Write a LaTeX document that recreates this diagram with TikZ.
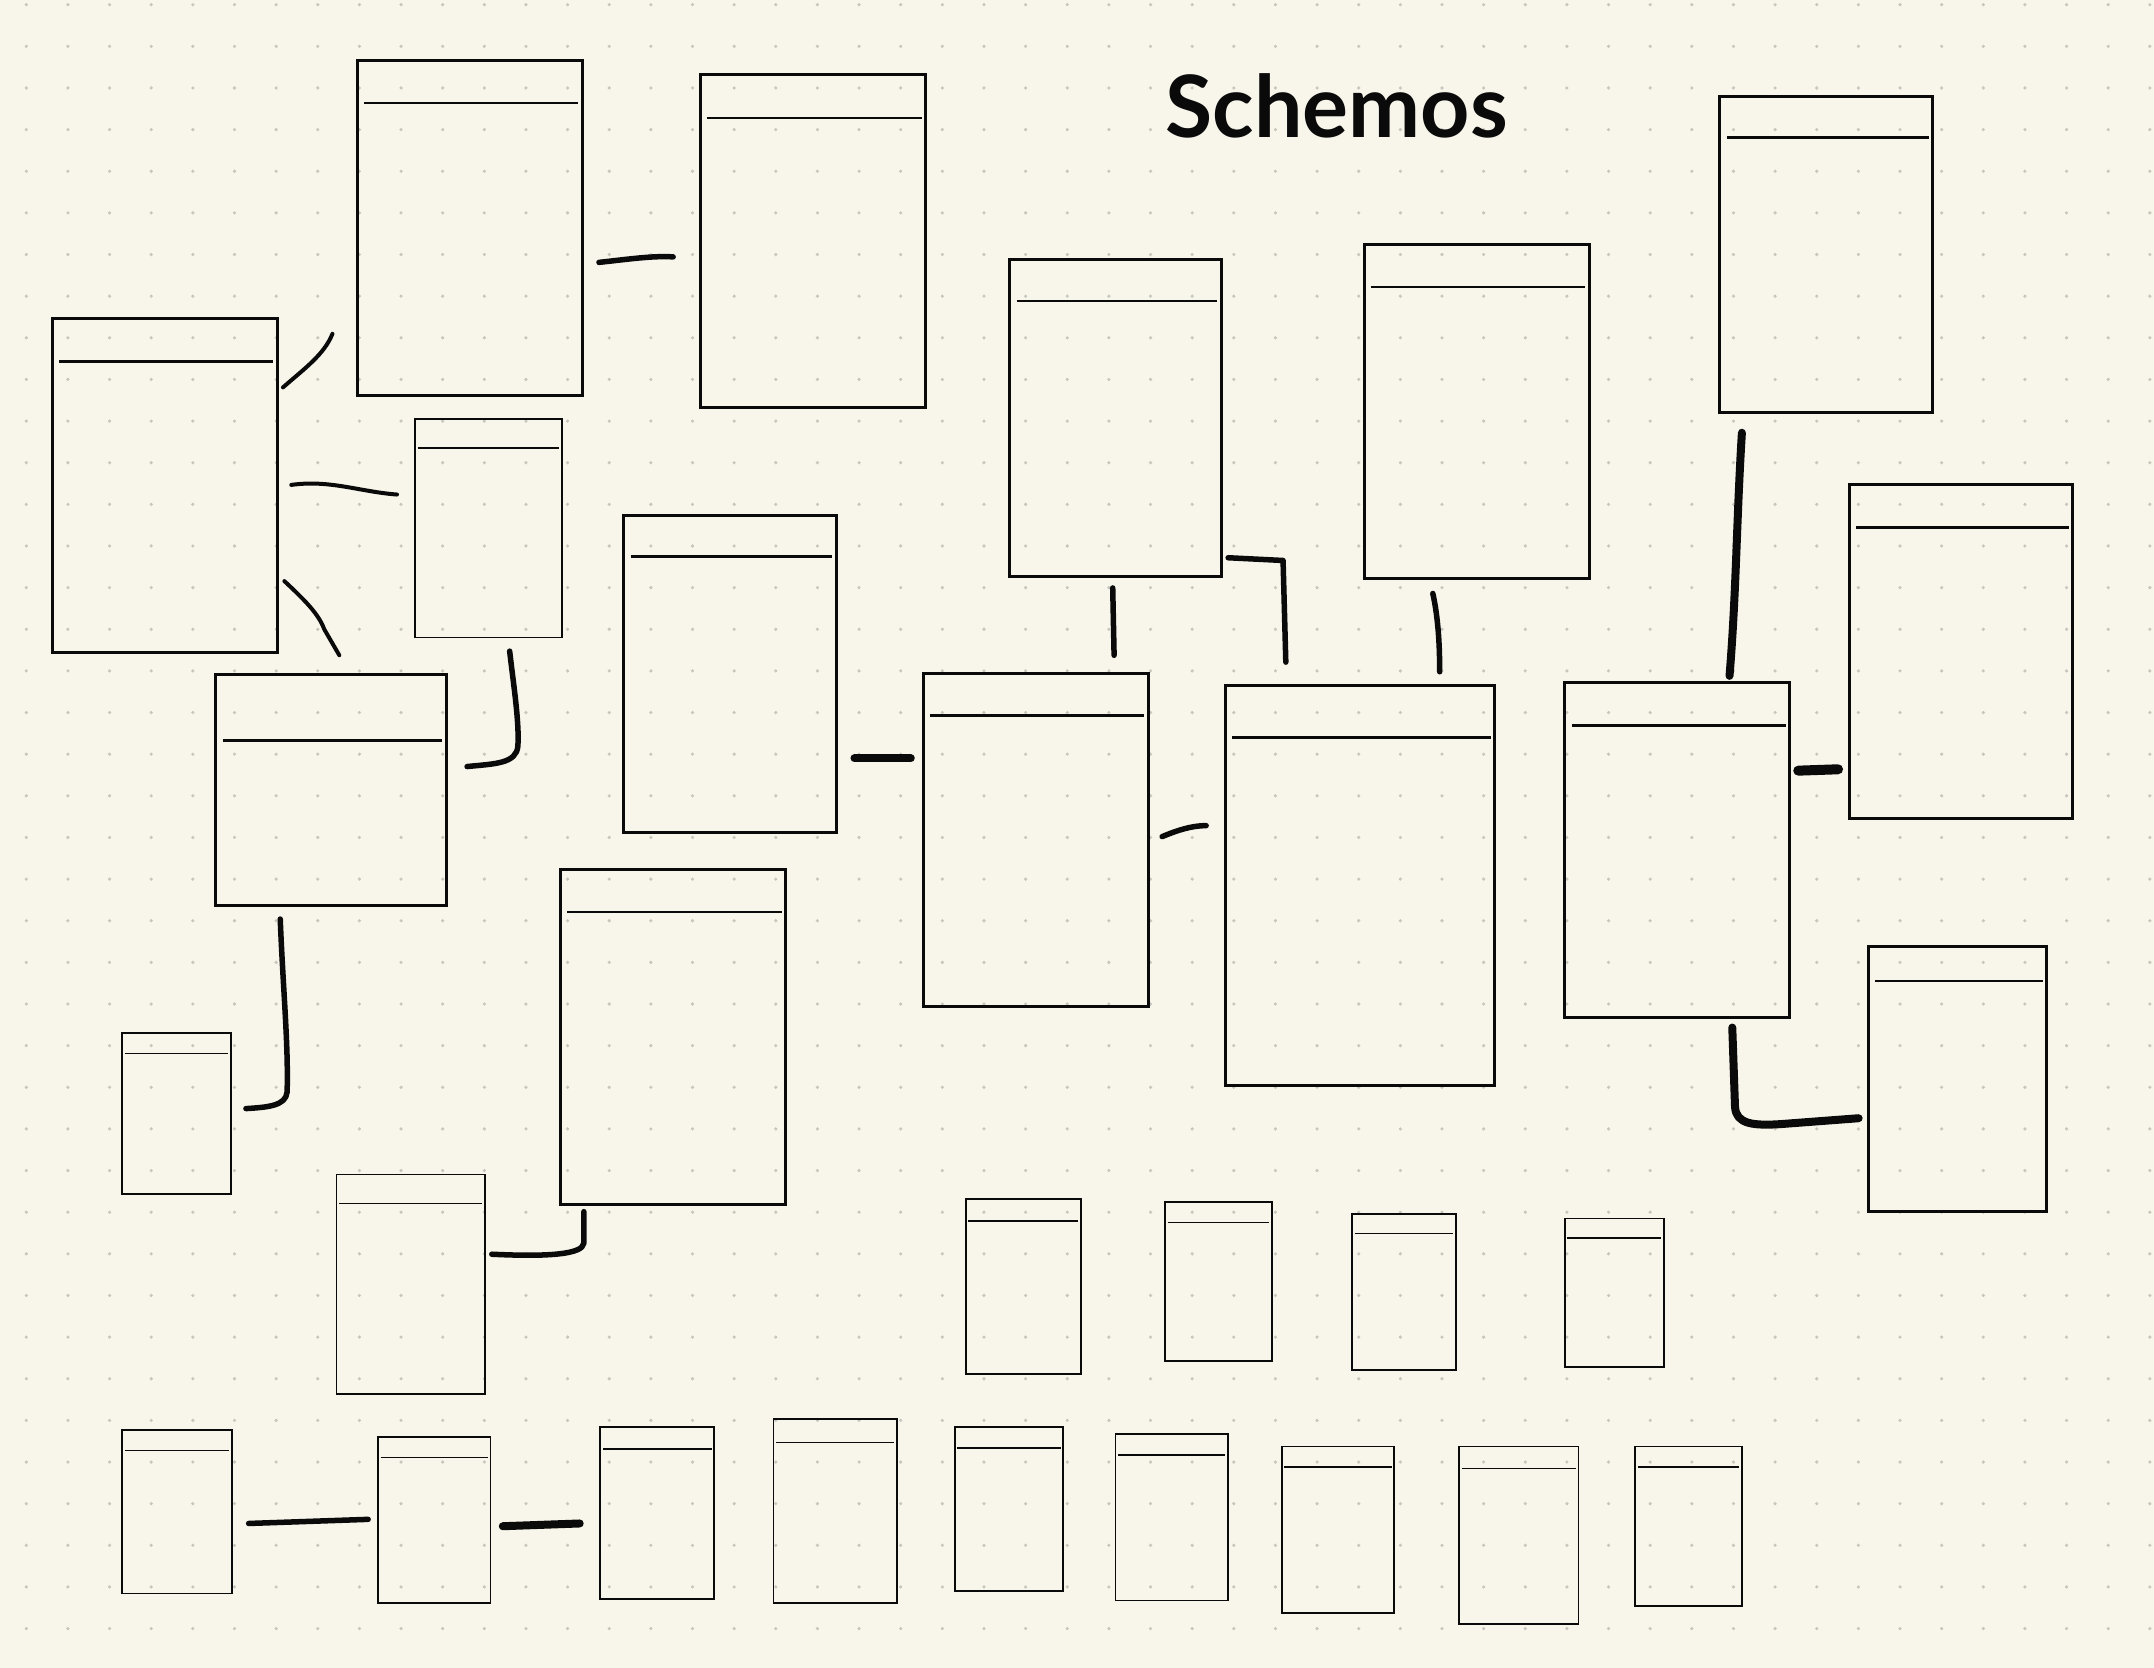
\documentclass[tikz,border=0pt]{standalone}
\usepackage{fontspec}
\newfontfamily\titlefont{Lato}
\usetikzlibrary{fit,calc}
\definecolor{paper}{HTML}{F8F6EB}
\definecolor{dotc}{HTML}{C8C7BF}
\definecolor{ink}{HTML}{0A0A0A}
\tikzset{
  box/.style={draw=ink, line width=3pt, inner sep=0pt, rectangle},
  sbox/.style={draw=ink, line width=1.8pt, inner sep=0pt, rectangle},
  hdr/.style={draw=ink, line width=2.6pt},
  shdr/.style={draw=ink, line width=1.6pt},
  conn/.style={draw=ink, line width=5.5pt, line cap=round, line join=round},
  thinconn/.style={draw=ink, line width=4pt, line cap=round, line join=round},
  fatconn/.style={draw=ink, line width=8pt, line cap=round, line join=round},
}
\newcommand\tbl[6]{%
  \node[box, fit={(#2,#3) (#4,#5)}] (#1) {};
  \draw[hdr] (#2+5,#6) -- (#4-3,#6);}
\newcommand\stbl[6]{%
  \node[sbox, fit={(#2,#3) (#4,#5)}] (#1) {};
  \draw[shdr] (#2+2,#6) -- (#4-2,#6);}
\begin{document}
\begin{tikzpicture}[x=1.37372pt, y=-1.37372pt]
\fill[paper] (0,0) rectangle (1568,1214);
\useasboundingbox (0,0) rectangle (1568,1214);
% dot grid
\foreach \i in {0,...,51}{
  \foreach \j in {0,...,40}{
    \fill[dotc] (19.15+30.31*\i, 3.42+30.31*\j) circle[radius=1.3];
  }
}
% title
\node[font=\titlefont\bfseries\fontsize{86}{86}\selectfont, text=ink] (title) at (973,77) {Schemos};
% large tables
\tbl{A}{260}{44}{424}{288}{75}
\tbl{B}{510}{54}{674}{297}{86}
\tbl{C}{38}{232}{202}{475}{263}
\stbl{D}{302}{305}{409}{464}{326}
\tbl{E}{157}{491}{325}{659}{539}
\tbl{F}{454}{375}{609}{606}{405}
\tbl{G}{735}{189}{889}{420}{219}
\tbl{H}{993}{178}{1157}{421}{209}
\tbl{I}{1252}{70}{1407}{300}{100}
\tbl{J}{1346}{353}{1509}{596}{384}
\tbl{K}{672}{490}{836}{733}{521}
\tbl{L}{892}{499}{1088}{790}{537}
\tbl{M}{1139}{497}{1303}{741}{528}
\tbl{N}{1360}{689}{1490}{882}{714}
\tbl{O}{408}{633}{572}{877}{664}
\stbl{P}{89}{752}{168}{869}{767}
\stbl{Q}{245}{855}{353}{1015}{876}
% small tables row 1
\stbl{R1}{703}{873}{787}{1000}{889}
\stbl{R2}{848}{875}{926}{991}{890}
\stbl{R3}{984}{884}{1060}{997}{898}
\stbl{R4}{1139}{887}{1211}{995}{901}
% bottom row
\stbl{S1}{89}{1041}{169}{1160}{1056}
\stbl{S2}{275}{1046}{357}{1167}{1061}
\stbl{S3}{437}{1039}{520}{1164}{1055}
\stbl{S4}{563}{1033}{653}{1167}{1050}
\stbl{S5}{695}{1039}{774}{1158}{1054}
\stbl{S6}{812}{1044}{894}{1165}{1059}
\stbl{S7}{933}{1053}{1015}{1174}{1068}
\stbl{S8}{1062}{1053}{1149}{1182}{1069}
\stbl{S9}{1190}{1053}{1268}{1169}{1068}
% connector end points
\coordinate (ab1) at (436,191); \coordinate (ab2) at (490,187);
\coordinate (ca1) at (206,282); \coordinate (ca2) at (242,243);
\coordinate (cd1) at (212,353); \coordinate (cd2) at (289,360);
\coordinate (ce1) at (207,423); \coordinate (ce2) at (247,477);
\coordinate (de1) at (371,474); \coordinate (de2) at (340,558);
\coordinate (ep1) at (204,669); \coordinate (ep2) at (179,807);
\coordinate (oq1) at (425,882); \coordinate (oq2) at (358,913);
\coordinate (fk1) at (622,552); \coordinate (fk2) at (663,552);
\coordinate (gk1) at (810,428); \coordinate (gk2) at (811,477);
\coordinate (gl1) at (894,406); \coordinate (gl2) at (936,482);
\coordinate (hl1) at (1043,432); \coordinate (hl2) at (1048,489);
\coordinate (kl1) at (846,609); \coordinate (kl2) at (878,601);
\coordinate (im1) at (1268,315); \coordinate (im2) at (1259,492);
\coordinate (mj1) at (1309,561); \coordinate (mj2) at (1338,560);
\coordinate (mn1) at (1261,748); \coordinate (mn2) at (1353,814);
\coordinate (s12a) at (181,1109); \coordinate (s12b) at (268,1106);
\coordinate (s23a) at (366,1111); \coordinate (s23b) at (422,1109);
% connectors
\draw[conn] (ab1) .. controls (455,189) and (475,186) .. (ab2);
\draw[thinconn] (ca1) .. controls (222,268) and (236,258) .. (ca2);
\draw[thinconn] (cd1) .. controls (240,349) and (262,358) .. (cd2);
\draw[thinconn] (ce1) .. controls (222,437) and (232,447) .. (236,458) -- (ce2);
\draw[conn] (de1) .. controls (374,500) and (378,525) .. (377,543) .. controls (376,556) and (360,556) .. (de2);
\draw[conn] (ep1) .. controls (206,720) and (210,760) .. (209,795) .. controls (208,805) and (195,806) .. (ep2);
\draw[conn] (oq1) -- (425,905) .. controls (424,913) and (400,915) .. (oq2);
\draw[fatconn] (fk1) -- (fk2);
\draw[conn] (gk1) -- (gk2);
\draw[conn] (gl1) -- (934,408) -- (gl2);
\draw[conn] (hl1) .. controls (1047,450) and (1048,470) .. (hl2);
\draw[conn] (kl1) .. controls (858,604) and (868,601) .. (kl2);
\draw[fatconn] (im1) .. controls (1264,380) and (1264,430) .. (im2);
\draw[ink, line width=10pt, line cap=round] (mj1) -- (mj2);
\draw[fatconn] (mn1) -- (1263,806) .. controls (1264,818) and (1275,820) .. (1300,818) -- (mn2);
\draw[conn] (s12a) -- (s12b);
\draw[fatconn] (s23a) -- (s23b);
\end{tikzpicture}
\end{document}
